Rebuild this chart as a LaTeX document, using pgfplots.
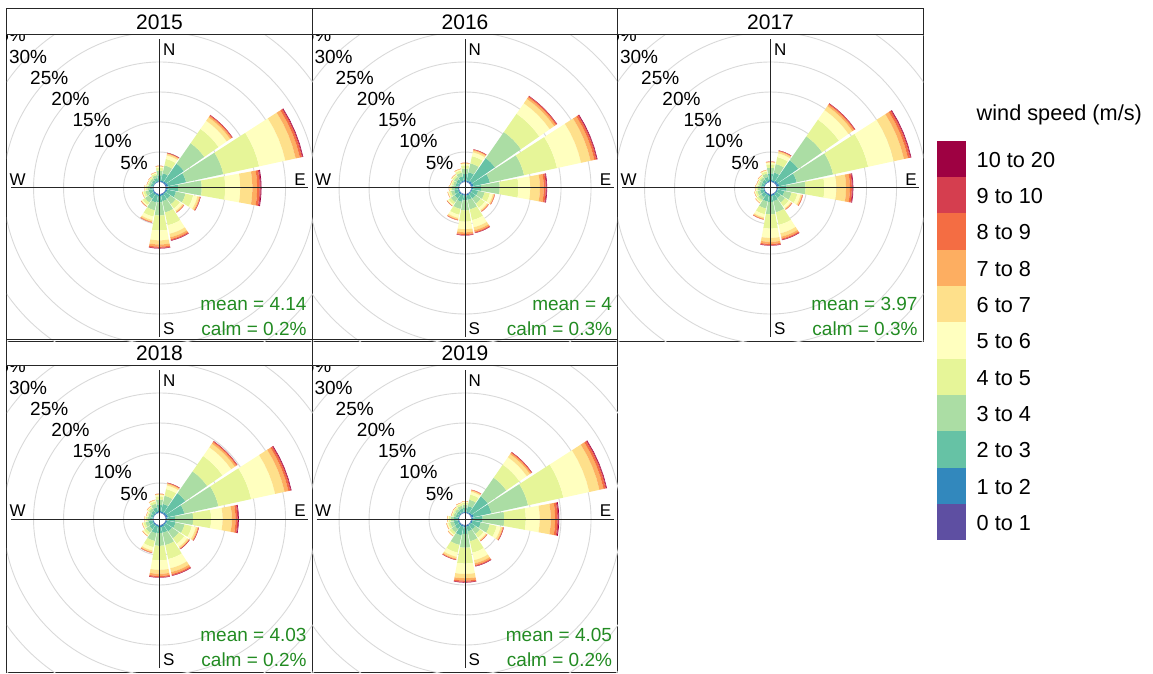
\documentclass[border=0pt]{standalone}
\usepackage{fontspec}
\setmainfont{Liberation Sans}
\usepackage{pgfplots}
\usepackage{pgfplotstable}
\pgfplotsset{compat=1.18}

\definecolor{c1}{HTML}{5E4FA2}
\definecolor{c2}{HTML}{3288BD}
\definecolor{c3}{HTML}{66C2A5}
\definecolor{c4}{HTML}{ABDDA4}
\definecolor{c5}{HTML}{E6F598}
\definecolor{c6}{HTML}{FFFFBF}
\definecolor{c7}{HTML}{FEE08B}
\definecolor{c8}{HTML}{FDAE61}
\definecolor{c9}{HTML}{F46D43}
\definecolor{c10}{HTML}{D53E4F}
\definecolor{c11}{HTML}{9E0142}
\definecolor{gridc}{HTML}{D9D9D9}
\definecolor{meangreen}{HTML}{228B22}

% frequencies (%) per direction and wind-speed bin
\pgfplotstableread{
dir b1 b2 b3 b4 b5 b6 b7 b8 b9 b10 b11
0 0.05 0.22 0.86 0.76 0.46 0.22 0.08 0.03 0.01 0.01 0.00
22.5 0.05 0.20 1.25 1.35 1.10 0.60 0.25 0.12 0.05 0.02 0.01
45 0.07 0.28 3.59 4.14 2.90 1.66 0.69 0.28 0.14 0.06 0.01
67.5 0.12 0.35 3.06 6.35 6.11 4.47 1.76 0.71 0.35 0.14 0.09
90 0.08 0.32 1.71 3.92 3.92 2.51 2.02 0.80 0.40 0.19 0.13
112.5 0.06 0.24 1.50 1.62 1.32 0.72 0.30 0.15 0.06 0.02 0.01
135 0.04 0.16 1.00 1.08 0.88 0.48 0.20 0.10 0.04 0.02 0.00
157.5 0.08 0.24 0.92 1.92 2.20 1.44 0.60 0.32 0.18 0.06 0.04
180 0.09 0.27 1.05 2.18 2.50 1.64 0.68 0.36 0.20 0.07 0.05
202.5 0.05 0.20 1.23 1.32 1.08 0.59 0.25 0.12 0.05 0.02 0.00
225 0.06 0.22 0.90 0.78 0.48 0.22 0.08 0.03 0.01 0.01 0.00
247.5 0.04 0.16 0.64 0.56 0.34 0.16 0.06 0.02 0.01 0.00 0.00
270 0.03 0.12 0.48 0.42 0.26 0.12 0.05 0.02 0.01 0.00 0.00
292.5 0.02 0.10 0.38 0.34 0.20 0.10 0.04 0.01 0.01 0.00 0.00
315 0.03 0.10 0.42 0.36 0.22 0.10 0.04 0.02 0.01 0.00 0.00
337.5 0.03 0.14 0.54 0.48 0.29 0.14 0.05 0.02 0.01 0.00 0.00
}\tA

\pgfplotstableread{
dir b1 b2 b3 b4 b5 b6 b7 b8 b9 b10 b11
0 0.06 0.26 1.02 0.90 0.54 0.26 0.10 0.04 0.02 0.01 0.00
22.5 0.06 0.22 1.40 1.51 1.23 0.67 0.28 0.14 0.06 0.02 0.01
45 0.09 0.35 4.60 5.31 3.72 2.12 0.89 0.35 0.18 0.07 0.02
67.5 0.11 0.32 2.81 5.83 5.62 4.10 1.62 0.65 0.32 0.13 0.09
90 0.06 0.25 1.36 3.11 3.11 1.99 1.60 0.64 0.32 0.15 0.10
112.5 0.04 0.16 1.03 1.11 0.90 0.49 0.21 0.10 0.04 0.02 0.00
135 0.04 0.15 0.95 1.03 0.84 0.46 0.19 0.10 0.04 0.02 0.00
157.5 0.07 0.20 0.77 1.61 1.84 1.21 0.50 0.27 0.15 0.05 0.03
180 0.07 0.21 0.79 1.66 1.90 1.24 0.52 0.28 0.15 0.06 0.03
202.5 0.05 0.18 1.13 1.22 0.99 0.54 0.23 0.11 0.05 0.02 0.00
225 0.05 0.22 0.86 0.76 0.46 0.22 0.08 0.03 0.01 0.01 0.00
247.5 0.04 0.16 0.64 0.56 0.34 0.16 0.06 0.02 0.01 0.00 0.00
270 0.03 0.14 0.54 0.48 0.29 0.14 0.05 0.02 0.01 0.00 0.00
292.5 0.03 0.12 0.48 0.42 0.26 0.12 0.05 0.02 0.01 0.00 0.00
315 0.04 0.14 0.58 0.50 0.31 0.14 0.05 0.02 0.01 0.00 0.00
337.5 0.05 0.18 0.74 0.64 0.39 0.18 0.07 0.03 0.01 0.00 0.00
}\tB

\pgfplotstableread{
dir b1 b2 b3 b4 b5 b6 b7 b8 b9 b10 b11
0 0.07 0.27 1.09 0.95 0.58 0.27 0.10 0.04 0.02 0.01 0.00
22.5 0.05 0.22 1.35 1.46 1.19 0.65 0.27 0.14 0.05 0.02 0.01
45 0.08 0.32 4.21 4.86 3.40 1.94 0.81 0.32 0.16 0.06 0.02
67.5 0.12 0.35 2.99 6.21 5.98 4.37 1.73 0.69 0.35 0.14 0.09
90 0.06 0.26 1.37 3.14 3.14 2.01 1.61 0.64 0.32 0.15 0.10
112.5 0.05 0.18 1.13 1.22 0.99 0.54 0.23 0.11 0.05 0.02 0.00
135 0.03 0.14 0.85 0.92 0.75 0.41 0.17 0.09 0.03 0.01 0.00
157.5 0.08 0.24 0.91 1.90 2.17 1.42 0.59 0.32 0.17 0.06 0.04
180 0.09 0.26 0.99 2.06 2.37 1.55 0.65 0.34 0.19 0.07 0.04
202.5 0.04 0.18 1.10 1.19 0.97 0.53 0.22 0.11 0.04 0.02 0.00
225 0.04 0.17 0.67 0.59 0.36 0.17 0.06 0.03 0.01 0.00 0.00
247.5 0.04 0.14 0.58 0.50 0.31 0.14 0.05 0.02 0.01 0.00 0.00
270 0.03 0.13 0.51 0.45 0.27 0.13 0.05 0.02 0.01 0.00 0.00
292.5 0.03 0.11 0.45 0.39 0.24 0.11 0.04 0.02 0.01 0.00 0.00
315 0.03 0.13 0.51 0.45 0.27 0.13 0.05 0.02 0.01 0.00 0.00
337.5 0.04 0.17 0.67 0.59 0.36 0.17 0.06 0.03 0.01 0.00 0.00
}\tC

\pgfplotstableread{
dir b1 b2 b3 b4 b5 b6 b7 b8 b9 b10 b11
0 0.06 0.26 1.02 0.90 0.54 0.26 0.10 0.04 0.02 0.01 0.00
22.5 0.05 0.21 1.30 1.40 1.14 0.62 0.26 0.13 0.05 0.02 0.01
45 0.07 0.30 3.85 4.44 3.11 1.78 0.74 0.30 0.15 0.06 0.01
67.5 0.11 0.32 2.80 5.81 5.59 4.09 1.61 0.65 0.32 0.13 0.09
90 0.06 0.24 1.31 2.99 2.99 1.92 1.54 0.61 0.31 0.15 0.10
112.5 0.06 0.23 1.43 1.54 1.25 0.68 0.29 0.14 0.06 0.02 0.01
135 0.05 0.20 1.28 1.38 1.12 0.61 0.26 0.13 0.05 0.02 0.01
157.5 0.09 0.26 1.00 2.09 2.39 1.57 0.65 0.35 0.19 0.07 0.04
180 0.09 0.26 1.01 2.11 2.42 1.58 0.66 0.35 0.19 0.07 0.04
202.5 0.05 0.19 1.20 1.30 1.06 0.58 0.24 0.12 0.05 0.02 0.00
225 0.05 0.20 0.80 0.70 0.43 0.20 0.08 0.03 0.01 0.00 0.00
247.5 0.04 0.16 0.64 0.56 0.34 0.16 0.06 0.02 0.01 0.00 0.00
270 0.03 0.12 0.48 0.42 0.26 0.12 0.05 0.02 0.01 0.00 0.00
292.5 0.03 0.10 0.42 0.36 0.22 0.10 0.04 0.02 0.01 0.00 0.00
315 0.03 0.13 0.51 0.45 0.27 0.13 0.05 0.02 0.01 0.00 0.00
337.5 0.05 0.18 0.74 0.64 0.39 0.18 0.07 0.03 0.01 0.00 0.00
}\tD

\pgfplotstableread{
dir b1 b2 b3 b4 b5 b6 b7 b8 b9 b10 b11
0 0.04 0.16 0.64 0.56 0.34 0.16 0.06 0.02 0.01 0.00 0.00
22.5 0.04 0.16 1.00 1.08 0.88 0.48 0.20 0.10 0.04 0.02 0.00
45 0.06 0.25 3.28 3.78 2.65 1.51 0.63 0.25 0.13 0.05 0.01
67.5 0.12 0.35 3.02 6.26 6.03 4.41 1.74 0.70 0.35 0.14 0.09
90 0.07 0.29 1.57 3.60 3.60 2.31 1.85 0.74 0.37 0.18 0.12
112.5 0.06 0.22 1.40 1.51 1.23 0.67 0.28 0.14 0.06 0.02 0.01
135 0.04 0.14 0.88 0.95 0.77 0.42 0.18 0.09 0.03 0.01 0.00
157.5 0.07 0.21 0.82 1.70 1.95 1.28 0.53 0.28 0.16 0.06 0.04
180 0.10 0.29 1.10 2.30 2.64 1.73 0.72 0.38 0.21 0.08 0.05
202.5 0.06 0.24 1.50 1.62 1.32 0.72 0.30 0.15 0.06 0.02 0.01
225 0.05 0.20 0.80 0.70 0.43 0.20 0.08 0.03 0.01 0.00 0.00
247.5 0.04 0.18 0.70 0.62 0.37 0.18 0.07 0.03 0.01 0.00 0.00
270 0.04 0.16 0.64 0.56 0.34 0.16 0.06 0.02 0.01 0.00 0.00
292.5 0.03 0.11 0.45 0.39 0.24 0.11 0.04 0.02 0.01 0.00 0.00
315 0.03 0.12 0.48 0.42 0.26 0.12 0.05 0.02 0.01 0.00 0.00
337.5 0.04 0.14 0.58 0.50 0.31 0.14 0.05 0.02 0.01 0.00 0.00
}\tE

\newcommand\stripfont{\fontsize{21}{25}\selectfont}
\newcommand\pctfont{\fontsize{19}{22}\selectfont}
\newcommand\cmpfont{\fontsize{17}{20}\selectfont}
\newcommand\legfont{\fontsize{21.7}{26}\selectfont}

% one annular sector: inner radius, outer radius, colour index
\newcommand\rosewedge[3]{%
  \pgfmathsetmacro\pxA{#2*cos(\angA)}\pgfmathsetmacro\pyA{#2*sin(\angA)}%
  \pgfmathsetmacro\pxB{#2*cos(\angB)}\pgfmathsetmacro\pyB{#2*sin(\angB)}%
  \pgfmathsetmacro\pxM{#2*cos(\angM)}\pgfmathsetmacro\pyM{#2*sin(\angM)}%
  \pgfmathsetmacro\pxC{#2*cos(\angC)}\pgfmathsetmacro\pyC{#2*sin(\angC)}%
  \pgfmathsetmacro\pxD{#2*cos(\angD)}\pgfmathsetmacro\pyD{#2*sin(\angD)}%
  \pgfmathsetmacro\qxA{#1*cos(\angA)}\pgfmathsetmacro\qyA{#1*sin(\angA)}%
  \pgfmathsetmacro\qxB{#1*cos(\angB)}\pgfmathsetmacro\qyB{#1*sin(\angB)}%
  \pgfmathsetmacro\qxM{#1*cos(\angM)}\pgfmathsetmacro\qyM{#1*sin(\angM)}%
  \pgfmathsetmacro\qxC{#1*cos(\angC)}\pgfmathsetmacro\qyC{#1*sin(\angC)}%
  \pgfmathsetmacro\qxD{#1*cos(\angD)}\pgfmathsetmacro\qyD{#1*sin(\angD)}%
  \edef\temp{\noexpand\addplot[draw=none,fill=c#3] coordinates {(\qxA,\qyA) (\pxA,\pyA) (\pxB,\pyB) (\pxM,\pyM) (\pxC,\pyC) (\pxD,\pyD) (\qxD,\qyD) (\qxC,\qyC) (\qxM,\qyM) (\qxB,\qyB)};}%
  \temp
}

\newcommand\drawrose[1]{%
  \foreach \row in {0,...,15}{%
    \pgfplotstablegetelem{\row}{dir}\of{#1}%
    \pgfmathsetmacro\angM{90-\pgfplotsretval}%
    \pgfmathsetmacro\angA{\angM-10.25}%
    \pgfmathsetmacro\angB{\angM-5.125}%
    \pgfmathsetmacro\angC{\angM+5.125}%
    \pgfmathsetmacro\angD{\angM+10.25}%
    \gdef\rin{1}%
    \foreach \k in {1,...,11}{%
      \pgfplotstablegetelem{\row}{b\k}\of{#1}%
      \let\val\pgfplotsretval
      \pgfmathsetmacro\rout{\rin+\val}%
      \ifdim\val pt>0pt \rosewedge{\rin}{\rout}{\k}\fi
      \global\let\rin\rout
    }%
  }%
}

\pgfplotsset{rosepanel/.style={
  x=6pt, y=6pt,
  xmin=-25.4583, xmax=25.4583, ymin=-25.5, ymax=25.5,
  xtick=\empty, ytick=\empty,
  axis line style={draw=black!85, line width=1pt},
  clip=true,
  every axis title/.style={at={(0.5,1)}, anchor=south, draw=black!85, line width=1pt,
     minimum width=305.5pt, minimum height=26pt, inner sep=0pt, outer sep=0pt, font=\stripfont},
}}

\newcommand\rosepanel[6]{%
\begin{axis}[rosepanel, at={(#1pt,#2pt)}, anchor=center, title={#3}]
  \pgfplotsinvokeforeach{5,10,15,20,25,30,35}{%
    \draw[gridc, line width=0.9pt] (axis cs:0,0) circle[radius={(1+##1)*6pt}];}
  \drawrose{#4}
  \draw[black!85, line width=1pt] (axis cs:-24.75,0) -- (axis cs:24.75,0);
  \draw[black!85, line width=1pt] (axis cs:0,-24.75) -- (axis cs:0,24.75);
  \pgfplotsinvokeforeach{5,10,15,20,25,30,35}{%
    \node[font=\pctfont, inner sep=0pt] at (axis cs:{-(1+##1)*0.70711},{(1+##1)*0.70711}) {##1\%};}
  \node[font=\cmpfont, inner sep=0pt, anchor=west] at (axis cs:0.55,23.08) {N};
  \node[font=\cmpfont, inner sep=0pt, anchor=west] at (axis cs:0.55,-23.42) {S};
  \node[font=\cmpfont, inner sep=0pt, anchor=south] at (axis cs:-23.67,0.4) {W};
  \node[font=\cmpfont, inner sep=0pt, anchor=south] at (axis cs:23.42,0.4) {E};
  \node[font=\pctfont, text=meangreen, inner sep=0pt, anchor=east] at (axis cs:24.53,-19.3) {mean = #5};
  \node[font=\pctfont, text=meangreen, inner sep=0pt, anchor=east] at (axis cs:24.53,-23.47) {calm = #6\%};
\end{axis}}

\begin{document}
\begin{tikzpicture}[x=1pt,y=1pt]
\path[use as bounding box] (0,0) rectangle (1153,673);
\rosepanel{159.55}{485}{2015}{\tA}{4.14}{0.2}
\rosepanel{465.05}{485}{2016}{\tB}{4}{0.3}
\rosepanel{770.55}{485}{2017}{\tC}{3.97}{0.3}
\rosepanel{159.55}{154}{2018}{\tD}{4.03}{0.2}
\rosepanel{465.05}{154}{2019}{\tE}{4.05}{0.2}

\node[font=\legfont, anchor=west, inner sep=0pt] at (976.5,558) {wind speed (m/s)};
\foreach [count=\i from 0] \lab/\col in {10 to 20/c11, 9 to 10/c10, 8 to 9/c9, 7 to 8/c8, 6 to 7/c7, 5 to 6/c6, 4 to 5/c5, 3 to 4/c4, 2 to 3/c3, 1 to 2/c2, 0 to 1/c1}{
  \fill[\col] (937,{532.3-36.33*\i}) rectangle (966,{532.3-36.33*(\i+1)});
  \node[font=\legfont, anchor=west, inner sep=0pt] at (976.5,{532.3-36.33*(\i+0.5)-1}) {\lab};
}
\end{tikzpicture}
\end{document}
